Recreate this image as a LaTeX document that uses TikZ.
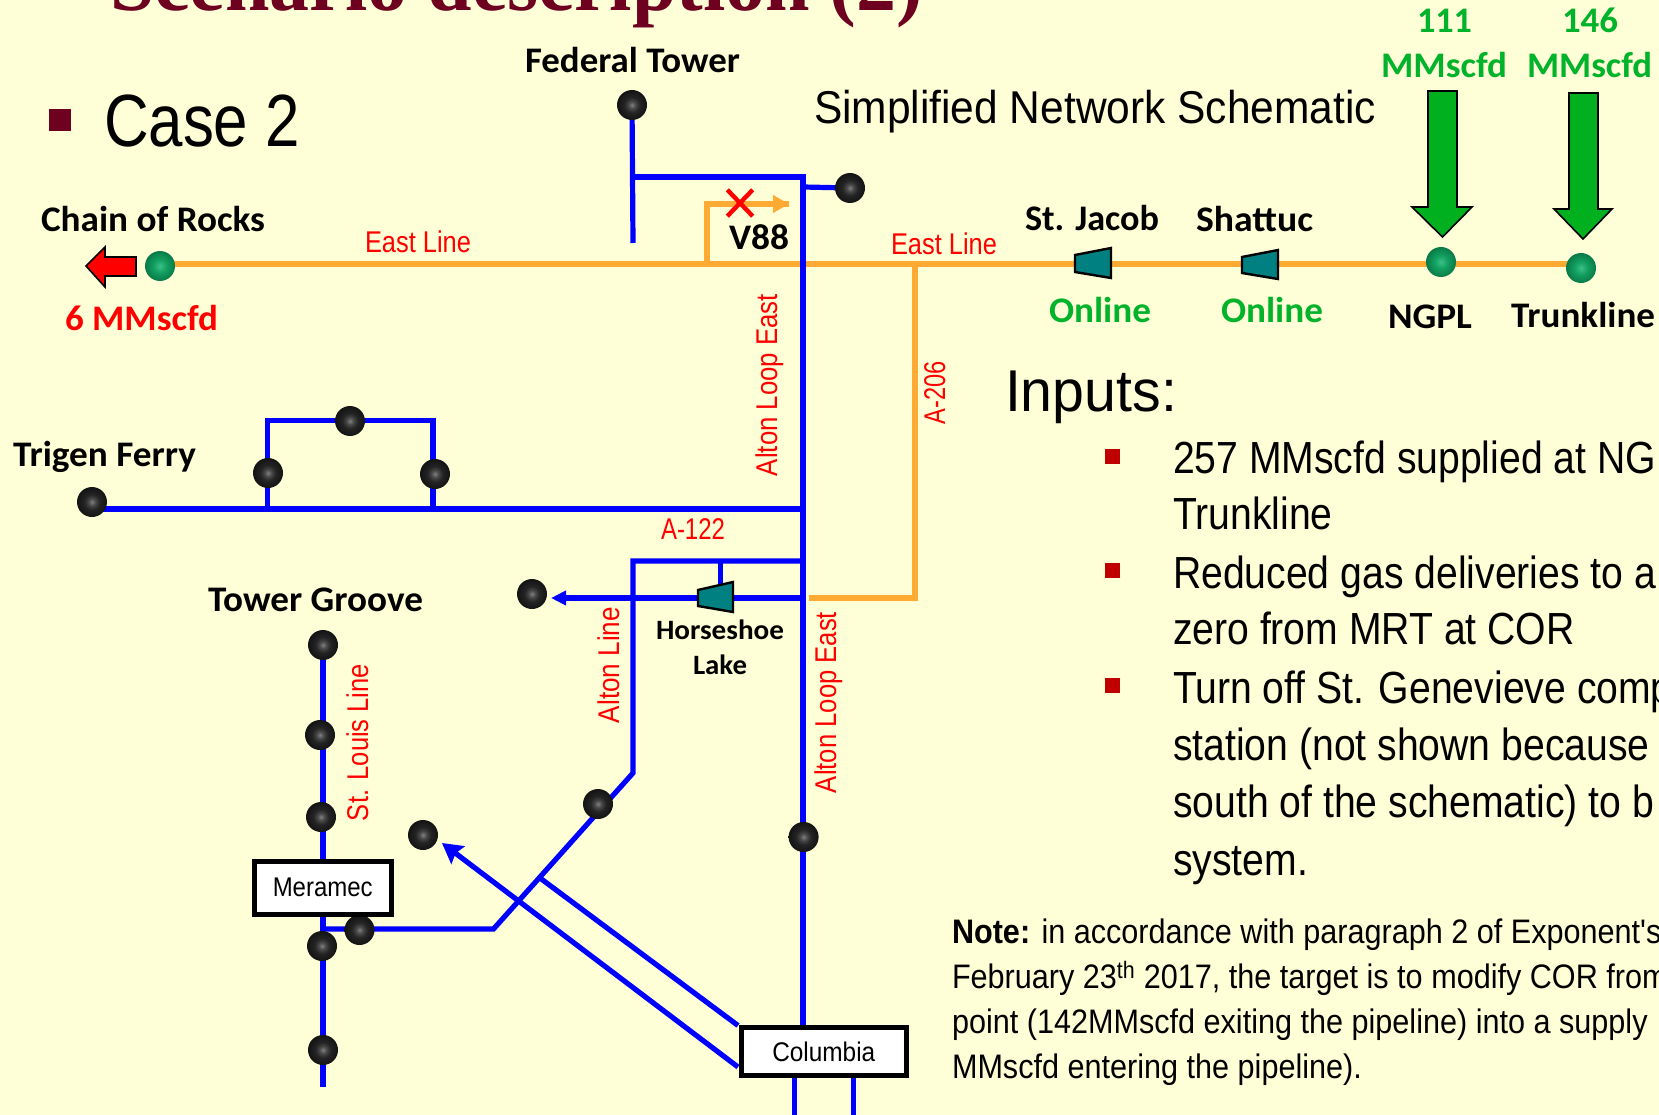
\documentclass[tikz,border=0pt]{standalone}
\usepackage{graphicx}
\usepackage{fontspec}
\setmainfont{Carlito}
\newfontfamily\arl{Liberation Sans}
\newfontfamily\tms{Liberation Serif}
\usetikzlibrary{arrows.meta,backgrounds,shapes.misc}
\definecolor{bgc}{HTML}{FFFFD7}
\definecolor{pipeblue}{HTML}{0000FF}
\definecolor{pipeor}{HTML}{FFAB33}
\definecolor{teal2}{HTML}{008080}
\definecolor{gtext}{HTML}{00B32A}
\definecolor{garrow}{HTML}{00B01E}
\definecolor{maroon2}{HTML}{6E0020}
\definecolor{bull}{HTML}{C00000}
\definecolor{gb1}{HTML}{3CC088}
\definecolor{gb2}{HTML}{12A060}
\definecolor{gb3}{HTML}{0A7A48}
\pgfdeclareradialshading{ballsh}{\pgfpoint{0bp}{0bp}}{color(0bp)=(black!50); color(6bp)=(black!72); color(13bp)=(black!86); color(24bp)=(black!92); color(50bp)=(black!92)}
\pgfdeclareradialshading{gballsh}{\pgfpoint{0bp}{0bp}}{color(0bp)=(gb1); color(11bp)=(gb2); color(25bp)=(gb3); color(50bp)=(gb3)}
\newcommand{\fs}[1]{\fontsize{#1}{#1}\selectfont}
\newcommand{\fit}[2]{\resizebox{#1pt}{\height}{#2}}
\newcommand{\bl}[2]{\fit{#1}{\fs{36}\bfseries #2}}
\newcommand{\rl}[2]{\fit{#1}{\arl\fs{30}#2}}
\newcommand{\bd}[1]{\scalebox{.87}[1]{\arl\fs{45}#1}}
\newcommand{\nt}[1]{\scalebox{.9}[1]{\arl\fs{34}#1}}
\tikzset{
  lab/.style={anchor=base west,inner sep=0pt,outer sep=0pt},
  vlab/.style={anchor=base west,inner sep=0pt,outer sep=0pt,rotate=90,text=red},
  ball/.style={circle,minimum size=30pt,inner sep=0pt,shading=ballsh},
  gball/.style={circle,minimum size=30pt,inner sep=0pt,shading=gballsh},
  bluepipe/.style={draw=pipeblue,line width=5.2pt,line join=miter},
  orpipe/.style={draw=pipeor,line width=5.4pt,line join=miter},
  comp/.style={draw=black,line width=2.4pt,fill=teal2,line join=miter},
  gblock/.style={draw=black,line width=1.6pt,fill=garrow,line join=miter},
  box/.style={draw=black,line width=5pt,fill=white,inner sep=0pt,rectangle},
  sq/.style={fill=bull,draw=none}
}
\begin{document}
\begin{tikzpicture}[x=1pt,y=-1pt]
\useasboundingbox (0,0) rectangle (1659,1115);
% junctions
\coordinate (ftj) at (633,177);
\coordinate (ftend) at (633,243);
\coordinate (mt) at (803,177);
\coordinate (mt2) at (803,187);
\coordinate (hsr) at (803,598);
\coordinate (a122r) at (803,561);
\coordinate (a122l) at (633,561);
\coordinate (alb) at (633,773);
\coordinate (ald) at (493.5,929);
\coordinate (slb) at (323,1087);
\coordinate (slj) at (323,929);
\coordinate (tfl) at (92,509);
\coordinate (tfr) at (803,509);
\coordinate (tl1) at (267.7,509);
\coordinate (tl2) at (433,509);
\coordinate (tu1) at (267.7,420.7);
\coordinate (tu2) at (433,420.7);
\coordinate (hst) at (720.5,561);
\coordinate (hsb) at (720.5,590);
\coordinate (v1) at (707,264);
\coordinate (v2) at (707,204);
\coordinate (v3) at (789,204);
\coordinate (el) at (160,264);
\coordinate (er) at (1581,264);
\coordinate (a6t) at (915,264);
\coordinate (a6b) at (915,598);
\coordinate (a6e) at (809,598);
\coordinate (cj) at (540,878);
\coordinate (cs1) at (738,1025.5);
\coordinate (cs2) at (738,1067);
\coordinate (ctip) at (442,843);
\coordinate (hstip) at (551,598);
\coordinate (c1d) at (794.6,1115);
\coordinate (c2d) at (853.6,1115);
\coordinate (c1t) at (794.6,1070);
\coordinate (c2t) at (853.6,1070);
\coordinate (mb) at (803,1040);
% balls
\node[ball] (ft) at (632,105) {};
\node[ball] (stub) at (850,188) {};
\node[ball] (tf) at (92,502) {};
\node[ball] (t1) at (350,421) {};
\node[ball] (t2) at (268,473) {};
\node[ball] (t3) at (435,474) {};
\node[ball] (hsball) at (532,594) {};
\node[ball] (tg) at (323,645) {};
\node[ball] (s2) at (320,735) {};
\node[ball] (s3) at (321,817) {};
\node[ball] (s4) at (322,946) {};
\node[ball] (s5) at (323,1050) {};
\node[ball] (mball) at (359.5,930) {};
\node[ball] (cball) at (423,835) {};
\node[ball] (aball) at (598,804) {};
\node[ball] (lball) at (803.6,837) {};
\node[gball] (cor) at (160,266) {};
\node[gball] (ngpl) at (1441,262) {};
\node[gball] (trunk) at (1581,268) {};
% boxes
\node[box,minimum width=137pt,minimum height=53pt] (mer) at (322.75,887.5) {\fit{100}{\arl\fs{27}Meramec}};
\node[box,minimum width=165.5pt,minimum height=48pt] (col) at (823.75,1051.5) {\fit{103}{\arl\fs{27}Columbia}};
% pipes behind everything
\begin{scope}[on background layer]
\fill[bgc] (0,0) rectangle (1659,1115);
\draw[orpipe] (el) -- (er);
\draw[orpipe] (v1) -- (v2) -- (v3);
\draw[orpipe,-{Triangle[length=16pt,width=17pt]}] (v2) -- (v3);
\draw[orpipe] (a6t) -- (a6b) -- (a6e);
\draw[bluepipe] (ft.center) -- (ftend);
\draw[bluepipe] (ftj) -- (mt) -- (mb);
\draw[bluepipe] (mt2) -- (stub.center);
\draw[bluepipe] (tfl) -- (tfr);
\draw[bluepipe] (tl1) -- (tu1) -- (tu2) -- (tl2);
\draw[bluepipe] (a122r) -- (a122l) -- (alb) -- (ald) -- (slj);
\draw[bluepipe] (tg.center) -- (slb);
\draw[bluepipe] (hst) -- (hsb);
\draw[bluepipe,-{Triangle[length=15pt,width=14pt]}] (hsr) -- (hstip);
\draw[bluepipe] (cs1) -- (cj);
\draw[bluepipe,-{Stealth[length=20pt,width=22pt,inset=3pt]}] (cs2) -- (ctip);
\draw[bluepipe] (c1t) -- (c1d);
\draw[bluepipe] (c2t) -- (c2d);
\end{scope}
% compressors
\draw[comp] (1075,255) -- (1111,248) -- (1111,278) -- (1075,272) -- cycle;
\draw[comp] (1242,257) -- (1278,250) -- (1278,279) -- (1242,273) -- cycle;
\draw[comp] (698,590) -- (733,582) -- (733,612) -- (698,606) -- cycle;
% block arrows
\draw[draw=black,line width=1.6pt,fill=red,line join=miter] (86,266) -- (105,247) -- (105,257) -- (136,257) -- (136,276) -- (105,276) -- (105,287) -- cycle;
\draw[gblock] (1428,91) -- (1457,91) -- (1457,207) -- (1472,207) -- (1442.5,237) -- (1412,207) -- (1428,207) -- cycle;
\draw[gblock] (1569,93) -- (1598,93) -- (1598,209) -- (1612,209) -- (1583,239) -- (1554,209) -- (1569,209) -- cycle;
% valve
\node[cross out,draw=red,line width=4.4pt,minimum width=21pt,minimum height=22pt,inner sep=0pt] (vx) at (740,203) {};
% title and headings
\node[lab,text=maroon2] (title) at (110,11) {\fit{813}{\tms\fs{82}\bfseries Scenario description (2)}};
\node[fill=maroon2,minimum width=22pt,minimum height=22pt,inner sep=0pt] (casesq) at (60,120) {};
\node[lab] (case) at (104,147) {\fit{196}{\arl\fs{74}Case 2}};
\node[lab] (sns) at (814,124) {\fit{562}{\arl\fs{46}Simplified Network Schematic}};
\node[lab] (inp) at (1005,411) {\fit{172}{\arl\fs{59}Inputs:}};
% black labels
\node[lab] (lft) at (525,73) {\bl{215}{Federal Tower}};
\node[lab] (lcor) at (41,232) {\bl{224}{Chain of Rocks}};
\node[lab] (lv) at (729,250) {\bl{60}{V88}};
\node[lab] (ltf) at (13,466) {\bl{183}{Trigen Ferry}};
\node[lab] (ltg) at (208,611) {\bl{215}{Tower Groove}};
\node[lab] (lsj) at (1025,230.5) {\bl{134}{St. Jacob}};
\node[lab] (lsh) at (1196,232) {\bl{117}{Shattuc}};
\node[lab] (lng) at (1388,328) {\bl{84}{NGPL}};
\node[lab] (ltr) at (1511,327) {\bl{144}{Trunkline}};
\node[lab] (lh1) at (656,639) {\fit{128}{\fs{28}\bfseries Horseshoe}};
\node[lab] (lh2) at (693,674) {\fit{54}{\fs{28}\bfseries Lake}};
% coloured labels
\node[lab,text=red] (l6) at (65,330) {\bl{153}{6 MMscfd}};
\node[lab,text=gtext] (lo1) at (1049,322) {\bl{102}{Online}};
\node[lab,text=gtext] (lo2) at (1221,322) {\bl{102}{Online}};
\node[lab,text=gtext] (l111) at (1417,33) {\bl{55}{111}};
\node[lab,text=gtext] (lm1) at (1381,78) {\bl{126}{MMscfd}};
\node[lab,text=gtext] (l146) at (1562,33) {\bl{56}{146}};
\node[lab,text=gtext] (lm2) at (1527,78) {\bl{125}{MMscfd}};
% red pipe labels
\node[lab,text=red] (e1) at (365,253) {\rl{106}{East Line}};
\node[lab,text=red] (e2) at (891,255) {\rl{106}{East Line}};
\node[lab,text=red] (a122) at (661,539) {\rl{64}{A-122}};
\node[vlab] (a206) at (945,424) {\rl{63}{A-206}};
\node[vlab] (ale1) at (777,476) {\rl{182}{Alton Loop East}};
\node[vlab] (ale2) at (836,793) {\rl{181}{Alton Loop East}};
\node[vlab] (alt) at (619,723) {\rl{116}{Alton Line}};
\node[vlab] (stl) at (368,821) {\rl{157}{St. Louis Line}};
% inputs
\node[sq,minimum width=15pt,minimum height=15pt,inner sep=0pt] (b1) at (1112.5,456) {};
\node[sq,minimum width=15pt,minimum height=15pt,inner sep=0pt] (b2) at (1112.5,570.5) {};
\node[sq,minimum width=15pt,minimum height=15pt,inner sep=0pt] (b3) at (1112.5,685.5) {};
\node[lab] (i1) at (1173,473) {\bd{257 MMscfd supplied at NG}};
\node[lab] (i2) at (1173,529.5) {\bd{Trunkline}};
\node[lab] (i3) at (1173,588) {\bd{Reduced gas deliveries to a}};
\node[lab] (i4) at (1173,644) {\bd{zero from MRT at COR}};
\node[lab] (i5) at (1173,703) {\bd{Turn off St. Genevieve comp}};
\node[lab] (i6) at (1173,760) {\bd{station (not shown because}};
\node[lab] (i7) at (1173,817) {\bd{south of the schematic) to b}};
\node[lab] (i8) at (1173,875) {\bd{system.}};
% note
\node[lab] (n1) at (952,943) {\nt{\textbf{Note:} in accordance with paragraph 2 of Exponent's}};
\node[lab] (n2) at (952,988) {\nt{February 23\textsuperscript{th} 2017, the target is to modify COR from}};
\node[lab] (n3) at (952,1033) {\nt{point (142MMscfd exiting the pipeline) into a supply}};
\node[lab] (n4) at (952,1078) {\nt{MMscfd entering the pipeline).}};
\end{tikzpicture}
\end{document}
